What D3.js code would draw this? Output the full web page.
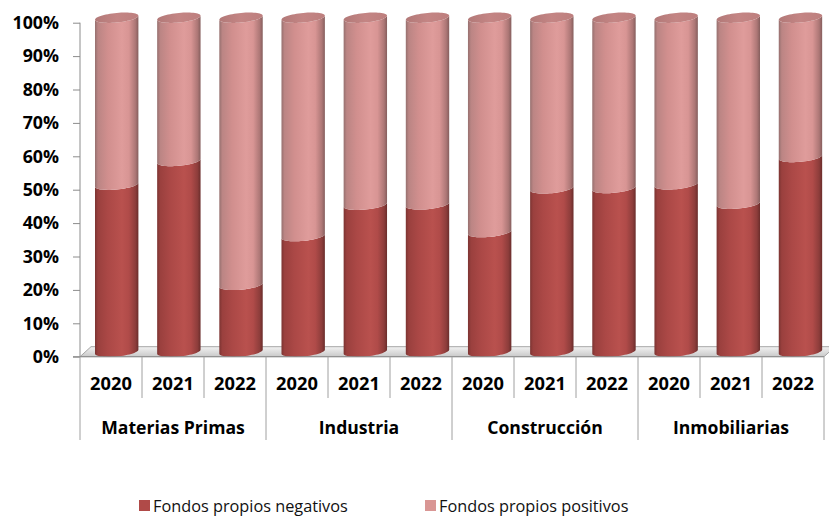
<!DOCTYPE html>
<html>
<head>
<meta charset="utf-8">
<script src="https://cdn.jsdelivr.net/npm/d3@7/dist/d3.min.js"></script>
<style>
body { margin: 0; background: #fff; }
text { font-family: "Open Sans", "Noto Sans", sans-serif; }
</style>
</head>
<body>
<svg width="829" height="518"></svg>
<script>

// datos
var sectores = ["Materias Primas", "Industria", "Construcción", "Inmobiliarias"];
var anios = ["2020", "2021", "2022"];
var negativos = [50.0, 57.1, 20.0, 34.6, 44.0, 44.1, 35.8, 48.9, 49.0, 50.1, 44.3, 58.3];
var positivos = [50.0, 42.9, 80.0, 65.4, 56.0, 55.9, 64.2, 51.1, 51.0, 49.9, 55.7, 41.7];
var series = ["Fondos propios negativos", "Fondos propios positivos"];
var ticksY = [0, 10, 20, 30, 40, 50, 60, 70, 80, 90, 100];

var svg = d3.select("svg"),
    width = +svg.attr("width"),
    height = +svg.attr("height");

var left = 80, right = 824, y0 = 356.7, y100 = 22.7;
var depthX = 11, depthY = -10;   // profundidad del suelo 3d

var cats = [];
sectores.forEach(function(s) { anios.forEach(function(a) { cats.push(s + "|" + a); }); });

var x = d3.scaleBand().domain(cats).range([left, right]).padding(0);
var y = d3.scaleLinear().domain([0, 100]).range([y0, y100]);

var defs = svg.append("defs");
function grad(id, stops, vertical) {
  var g = defs.append("linearGradient").attr("id", id)
    .attr("x1", 0).attr("y1", 0).attr("x2", vertical ? 0 : 1).attr("y2", vertical ? 1 : 0);
  stops.forEach(function(s) { g.append("stop").attr("offset", s[0]).attr("stop-color", s[1]); });
}
grad("gNeg", [[0, "#7c3432"], [0.07, "#9a403e"], [0.3, "#ab4846"], [0.62, "#b9514e"], [0.78, "#b04b49"], [0.93, "#8d3d3b"], [1, "#6a2d2b"]]);
grad("gPos", [[0, "#96706f"], [0.07, "#bb8584"], [0.3, "#d18f8e"], [0.62, "#df9c9b"], [0.78, "#d89594"], [0.93, "#ad7776"], [1, "#855e5d"]]);
grad("gTop", [[0, "#b27978"], [0.5, "#c48584"], [1, "#bd7f7e"]]);
grad("gFloor", [[0, "#f2f2f2"], [1, "#c9c9c9"]], true);

// suelo
svg.append("path")
  .attr("d", "M" + left + "," + y0 + "L" + right + "," + y0 + "L" + (right + depthX) + "," + (y0 + depthY) +
             "L" + (left + depthX) + "," + (y0 + depthY) + "Z")
  .attr("fill", "url(#gFloor)")
  .attr("stroke", "#a6a6a6")
  .attr("stroke-width", 1);

// eje y
var axisY = svg.append("g").attr("transform", "translate(" + left + ",0)")
  .call(d3.axisLeft(y).tickValues(ticksY).tickSize(7).tickPadding(14).tickFormat(function(d) { return d + "%"; }));
axisY.select(".domain").attr("stroke", "#8c8c8c").attr("d", "M0," + y100 + "V" + y0);
axisY.selectAll(".tick line").attr("stroke", "#8c8c8c");
axisY.selectAll(".tick text")
  .attr("font-family", "Open Sans")
  .attr("font-size", 17.8).attr("font-weight", "bold").attr("fill", "#000");

// cilindros
var r = x.bandwidth() * 0.35, s = 2, b = 4.8;
var line = d3.line();
function pt(cx, cy, t) { return [cx + r * Math.cos(t), cy - s * Math.cos(t) + b * Math.sin(t)]; }

function bodyPath(cx, v0, v1) {
  var cb = y(v0) - 5, ct = y(v1) - 5, pts = [], k, n = 30;
  pts.push(pt(cx, ct, Math.PI));
  for (k = 0; k <= n; k++) pts.push(pt(cx, cb, Math.PI - Math.PI * k / n));
  for (k = 0; k <= n; k++) pts.push(pt(cx, ct, Math.PI * k / n));
  return line(pts) + "Z";
}
function topPath(cx, v) {
  var ct = y(v) - 5, pts = [];
  for (var k = 0; k < 60; k++) pts.push(pt(cx, ct, 2 * Math.PI * k / 60));
  return line(pts) + "Z";
}

var bars = svg.append("g").selectAll("g").data(cats).enter().append("g");
bars.each(function(c, i) {
  var cx = x(c) + x.bandwidth() / 2 + 5.7 + 0.16 * i;
  var g = d3.select(this);
  g.append("path").attr("d", bodyPath(cx, 0, negativos[i])).attr("fill", "url(#gNeg)");
  g.append("path").attr("d", bodyPath(cx, negativos[i], negativos[i] + positivos[i])).attr("fill", "url(#gPos)");
  g.append("path").attr("d", topPath(cx, negativos[i] + positivos[i])).attr("fill", "url(#gTop)");
});

// eje x con dos niveles
svg.append("line").attr("x1", left - 7).attr("x2", right).attr("y1", y0).attr("y2", y0)
  .attr("stroke", "#8c8c8c");

svg.append("g").selectAll("line").data(d3.range(cats.length + 1)).enter().append("line")
  .attr("x1", function(i) { return left + i * x.step(); })
  .attr("x2", function(i) { return left + i * x.step(); })
  .attr("y1", y0)
  .attr("y2", function(i) { return i % anios.length == 0 ? 440 : 398; })
  .attr("stroke", "#a0a0a0");

svg.append("g").selectAll("text").data(cats).enter().append("text")
  .attr("x", function(c) { return x(c) + x.bandwidth() / 2; })
  .attr("y", 389.5)
  .attr("text-anchor", "middle")
  .attr("font-size", 18.3).attr("font-weight", "bold")
  .text(function(c) { return c.split("|")[1]; });

svg.append("g").selectAll("text").data(sectores).enter().append("text")
  .attr("x", function(d, i) { return left + (i + 0.5) * anios.length * x.step(); })
  .attr("y", 433.5)
  .attr("text-anchor", "middle")
  .attr("font-size", 17.6).attr("font-weight", "bold")
  .text(function(d) { return d; });

// leyenda
var legColors = ["#b04a48", "#d99694"];
var legX = [139, 425];
var leg = svg.append("g").selectAll("g").data(series).enter().append("g")
  .attr("transform", function(d, i) { return "translate(" + legX[i] + ",500)"; });
leg.append("rect").attr("width", 11).attr("height", 11).attr("fill", function(d, i) { return legColors[i]; });
leg.append("text").attr("x", 14).attr("y", 12)
  .attr("font-size", 16.3).attr("fill", "#111")
  .text(function(d) { return d; });

</script>
</body>
</html>
